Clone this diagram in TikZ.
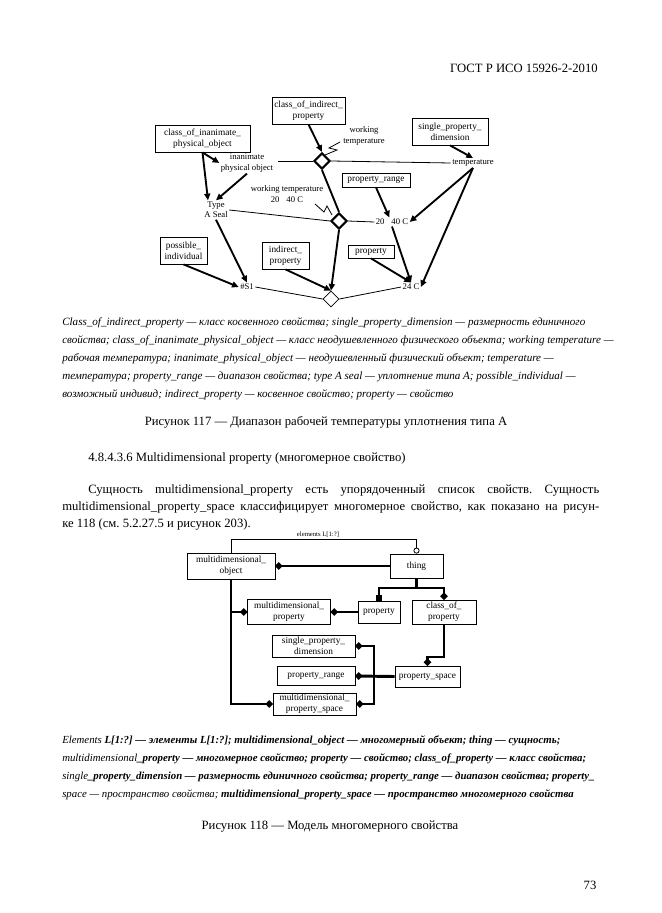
\documentclass[tikz,border=0pt]{standalone}
\usepackage{fontspec}
\setmainfont{Liberation Serif}
\usetikzlibrary{arrows.meta,shapes.geometric}
\frenchspacing
\newcommand\dlab{\fontsize{6.5pt}{7.8pt}\selectfont}
\newcommand\dbox{\fontsize{7pt}{8.3pt}\selectfont}
\newcommand\dtiny{\fontsize{5pt}{6pt}\selectfont}
\newcommand\btxt{\fontsize{9.5pt}{11pt}\selectfont}
\newcommand\ctxt{\fontsize{8.3pt}{10pt}\selectfont\itshape}
\newcommand\etxt{\fontsize{8.1pt}{10pt}\selectfont\itshape}
\begin{document}
\begin{tikzpicture}[x=0.75pt,y=-0.75pt,
  box/.style={draw, line width=0.6pt, inner sep=0pt, align=center, font=\dbox},
  lab/.style={inner sep=1pt, align=center, font=\dlab},
  thk/.style={line width=1.4pt},
  thn/.style={line width=0.6pt},
  arr/.style={thk, -{Triangle[length=5pt,width=4.5pt]}},
  dm/.style={diamond, draw, fill=white, inner sep=0pt, minimum width=12pt, minimum height=12pt},
  hv/.style={line width=2.2pt},
  txt/.style={inner sep=0pt, font=\btxt, anchor=west},
  captxt/.style={inner sep=0pt, font=\ctxt, anchor=west},
  eltxt/.style={inner sep=0pt, font=\etxt, anchor=west}]
\useasboundingbox[fill=white] (0,0) rectangle (661,913);

% header / footer
\node[inner sep=0pt, anchor=east, font=\btxt] (hdr) at (598,68) {ГОСТ Р ИСО 15926-2-2010};
\node[inner sep=0pt, font=\btxt] (pg) at (590,885) {73};

% ---------------- Figure 117 ----------------
\node[box, minimum width=54.75pt, minimum height=20.25pt] (cip) at (308.5,110.5) {class\_of\_indirect\_\\property};
\node[box, minimum width=71.25pt, minimum height=20.25pt] (cipo) at (202.5,138.5) {class\_of\_inanimate\_\\physical\_object};
\node[box, minimum width=57pt, minimum height=20.25pt] (spd) at (450,131.5) {single\_property\_\\dimension};
\node[box, minimum width=51pt, minimum height=10.5pt] (pr) at (376,180) {property\_range};
\node[box, minimum width=35.25pt, minimum height=20.25pt] (pi) at (183.5,250.5) {possible\_\\individual};
\node[box, minimum width=35.25pt, minimum height=20.25pt] (ip) at (285.5,255.5) {indirect\_\\property};
\node[box, minimum width=34.5pt, minimum height=9.75pt] (prop) at (371,251.5) {property};

\node[lab] (ipo) at (247,163) {inanimate\\physical object};
\node[lab] (type) at (216,210) {Type\\A Seal};
\node[lab] (wt2) at (287,194) {working temperature\\20\hspace{0.8em}40 C};
\node[lab] (wt1) at (364,136) {working\\temperature};
\node[lab] (temp) at (473,163) {temperature};
\node[lab] (r2040) at (392,222) {20\hspace{0.8em}40 C};
\node[lab] (c24) at (411,287) {24 C};
\node[lab] (s1) at (247,287) {\#S1};

\node[dm, line width=1.6pt] (d1) at (322,161) {};
\node[dm, line width=1.6pt] (d2) at (339,221) {};
\node[dm, thn] (d3) at (331,299) {};

\coordinate (hl) at (278,161);
\draw[thn] (hl) -- (d1.west);
\draw[thn] (d1.east) -- (temp.west);
\draw[arr] (cip.south) -- (d1.north);
\draw[thk] (d1.south) -- (d2.north);
\draw[thn] (type.east) -- (d2.west);
\draw[thn] (d2.east) -- (r2040.west);
\draw[arr] (d2.south) -- (d3.north);
\draw[arr] (ip.south) -- (d3.north);
\draw[thn] (d3.west) -- (s1.east);
\draw[thn] (d3.east) -- (c24.west);

\draw[thn] (340,142) -- (329,148) -- (337,150) -- (325,155);
\draw[thn] (315,204) -- (324,212) -- (327,206) -- (332,215);

\draw[arr] (cipo.south) -- (ipo.west);
\draw[arr] (cipo.south) -- ([xshift=-6pt]type.north);
\draw[arr] (ipo.south) -- (type.north);
\draw[arr] (type.south) -- (s1.north);
\draw[arr] (pi.south) -- (s1.west);
\draw[arr] (spd.south) -- (temp.north);
\draw[arr] (pr.south) -- ([xshift=-2pt]r2040.north);
\draw[arr] (temp.south) -- (r2040.east);
\draw[arr] (temp.south) -- (c24.east);
\draw[arr] (r2040.south) -- (c24.north);
\draw[arr] (prop.south) -- (c24.north);

% captions fig 117
\node[captxt] (c1) at (62,323) {Class\_of\_indirect\_property — класс косвенного свойства; single\_property\_dimension — размерность единичного};
\node[captxt] (c2) at (62,341) {свойства; class\_of\_inanimate\_physical\_object — класс неодушевленного физического объекта; working temperature —};
\node[captxt] (c3) at (62,359) {рабочая температура; inanimate\_physical\_object — неодушевленный физический объект; temperature —};
\node[captxt] (c4) at (62,377) {температура; property\_range — диапазон свойства; type A seal — уплотнение типа A; possible\_individual —};
\node[captxt] (c5) at (62,395) {возможный индивид; indirect\_property — косвенное свойство; property — свойство};

\node[inner sep=0pt, font=\btxt] (f117) at (326,422) {Рисунок 117 — Диапазон рабочей температуры уплотнения типа A};

\node[txt] (sec) at (88,458) {4.8.4.3.6 Multidimensional property (многомерное свойство)};
\node[txt] (p1) at (88,490) {\makebox[383.25pt][s]{Сущность multidimensional\_property есть упорядоченный список свойств. Сущность}};
\node[txt] (p2) at (62,507) {\makebox[402.75pt][s]{multidimensional\_property\_space классифицирует многомерное свойство, как показано на рисун-}};
\node[txt] (p3) at (62,524) {ке 118 (см. 5.2.27.5 и рисунок 203).};

% ---------------- Figure 118 ----------------
\node[box, minimum width=66pt, minimum height=19.5pt] (mo) at (231,566) {multidimensional\_\\object};
\node[box, minimum width=39.75pt, minimum height=18pt] (th) at (416.5,566) {thing};
\node[box, minimum width=62.25pt, minimum height=18.75pt] (mp) at (289,612) {multidimensional\_\\property};
\node[box, minimum width=31.5pt, minimum height=16.5pt] (pp) at (379,612) {property};
\node[box, minimum width=48pt, minimum height=18pt] (cop) at (444,612) {class\_of\_\\property};
\node[box, minimum width=48.75pt, minimum height=15.75pt] (ps) at (427.5,676.5) {property\_space};
\node[box, minimum width=62.25pt, minimum height=16.5pt] (spd2) at (313.5,646) {single\_property\_\\dimension};
\node[box, minimum width=58.5pt, minimum height=14.25pt] (pr2) at (316,676) {property\_range};
\node[box, minimum width=62.25pt, minimum height=16.5pt] (mps) at (314.5,704) {multidimensional\_\\property\_space};

\node[inner sep=0pt, font=\dtiny] (el) at (318,535) {elements L[1:?]};

\draw[thn, -{Circle[open,length=4.5pt,width=4.5pt]}] (mo.north) -- ++(0,-13) -| (th.north);
\draw[hv, {Circle[length=5pt,width=5pt]}-] (mo.east) -- (th.west);
\coordinate (vb) at (231,704);
\draw[hv, -{Circle[length=5pt,width=5pt]}] (mo.south) -- (vb) -- (mps.west);
\draw[hv, -{Circle[length=5pt,width=5pt]}] (mo.south |- mp.west) -- (mp.west);
\draw[hv, {Circle[length=5pt,width=5pt]}-] (mp.east) -- (pp.west);
\coordinate (tj) at (416.5,588);
\draw[hv] (th.south) -- (tj);
\draw[hv, -{Square[length=4.5pt,width=4.5pt]}] (tj) -| (pp.north);
\draw[hv, -{Circle[length=5pt,width=5pt]}] (tj) -| (cop.north);
\coordinate (cj) at (444,657);
\draw[hv, -{Circle[length=5pt,width=5pt]}] (cop.south) -- (cj) -| (ps.north);
\coordinate (vr) at (374,646);
\draw[hv, {Circle[length=5pt,width=5pt]}-{Circle[length=5pt,width=5pt]}] (spd2.east) -- (vr) |- (mps.east);
\draw[hv, {Circle[length=5pt,width=5pt]}-] (pr2.east) -- (ps.west);

% captions fig 118
\node[eltxt] (e1) at (62,741) {Elements \textbf{L[1:?] — элементы L[1:?]; multidimensional\_object — многомерный объект; thing — сущность;}};
\node[eltxt] (e2) at (62,759) {multidimensional\textbf{\_property — многомерное свойство; property — свойство; class\_of\_property — класс свойства;}};
\node[eltxt] (e3) at (62,777) {single\textbf{\_property\_dimension — размерность единичного свойства; property\_range — диапазон свойства; property\_}};
\node[eltxt] (e4) at (62,795) {space — пространство свойства; \textbf{multidimensional\_property\_space — пространство многомерного свойства}};

\node[inner sep=0pt, font=\btxt] (f118) at (330,827) {Рисунок 118 — Модель многомерного свойства};
\end{tikzpicture}
\end{document}
